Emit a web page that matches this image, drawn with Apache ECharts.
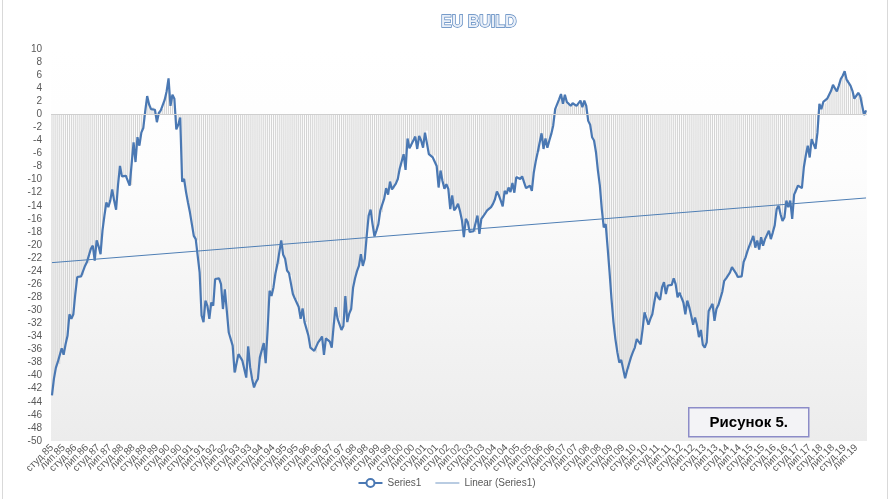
<!DOCTYPE html>
<html>
<head>
<meta charset="utf-8">
<script src="https://cdn.jsdelivr.net/npm/echarts@6/dist/echarts.min.js"></script>
<style>html,body{margin:0;padding:0;background:#fff}#c{width:893px;height:499px}</style>
</head>
<body>
<div id="c"></div>
<script>
// Month abbreviations (Ukrainian) and years
const monthNames = ['студ.','лют.','бер.','квіт.','трав.','черв.','лип.','серп.','вер.','жовт.','лист.','груд.'];
const years = ['85','86','87','88','89','90','91','92','93','94','95','96','97','98','99','00','01','02','03','04','05','06','07','08','09','10','11','12','13','14','15','16','17','18','19'];

// Series1 monthly values, Jan 1985 .. Dec 2019
const series1 = [
-43,-40.5,-38.8,-37.9,-38.2,-35.8,-36.8,-35.2,-33.9,-30.6,
-31.3,-30.6,-27.5,-24.9,-25,-24.8,-24.6,-23.2,-22.6,-22.8,
-20.6,-20.1,-22.4,-19.3,-20.2,-21.4,-17.8,-15.5,-13.5,-14.2,
-13.2,-11.5,-13.2,-14.6,-10.8,-7.9,-9.5,-9.8,-9.4,-9.6,
-10.9,-10.8,-4.3,-7.3,-3.5,-4.8,-2.8,-2.1,0.5,2.8,
1.5,0.8,1.1,0.7,-1.2,0.2,0.6,0.8,2.2,3.5,
5.5,1.3,3.0,2.4,-2.3,-1.6,-0.5,-10.3,-9.9,-11.9,
-13.5,-15,-16.8,-18.6,-19.1,-19.3,-24.2,-30.8,-31.8,-28.5,
-29.3,-31.3,-28.8,-29.3,-25.2,-25.1,-25.1,-26,-29.8,-26.8,
-26.8,-33.4,-33.5,-35.4,-39.5,-39.4,-36.7,-37.2,-37.7,-39,
-40.3,-35.5,-38.7,-40.5,-41.8,-41.0,-40.5,-37.2,-37.4,-35,
-38.1,-32.9,-27,-27.8,-26.5,-24.4,-23,-22.9,-19.3,-21.5,
-22.1,-23.9,-24.3,-24.6,-27.5,-28.2,-28.3,-29.5,-31.3,-29.7,
-31.8,-31.8,-33.9,-35.7,-36,-36.2,-36.5,-34.9,-34.5,-34,
-36.8,-34.3,-34.2,-34.8,-35.7,-32.3,-29.5,-31.3,-31.1,-33,
-32.4,-27.8,-31.8,-30.5,-29.8,-26.5,-25.1,-24,-23.2,-21.4,
-23.2,-22.1,-18.6,-15.5,-14.6,-16.8,-18.7,-17.8,-16.8,-14.7,
-15,-12.9,-11.3,-12.3,-10.3,-11.5,-11.4,-10.6,-9.9,-8.3,
-8,-6.1,-8.5,-3.7,-5.2,-5.0,-4,-3.4,-5.3,-3.3,
-4,-5.1,-2.8,-2.5,-6.1,-6.4,-6.6,-6.3,-7.9,-11.2,
-8.6,-10.2,-11.4,-10.7,-11.4,-14.5,-12.4,-14.7,-14.3,-13.7,
-14.8,-16.2,-18.8,-16,-16.5,-18,-17.8,-17.9,-18,-15.5,
-18.3,-16,-15.6,-15.4,-14.7,-14.5,-14.2,-13.7,-13,-11.8,
-12.4,-13.2,-14.1,-11.7,-12.2,-11.2,-11.9,-10.5,-12,-9.6,
-9.3,-9.9,-9.5,-10.4,-11.3,-11.4,-10.9,-11.7,-8.9,-7.2,
-5.8,-5.7,-2.9,-5.3,-3.7,-5.1,-4,-3,-1.7,0.8,
0.9,2.3,3.1,1.6,3,1.9,1.8,1.3,1.7,1.4,
1.3,1.5,2.1,1.1,2.1,1.3,-1,-1.6,-3.5,-4,
-5.8,-8.6,-10.9,-14.5,-17.3,-16.8,-20.4,-24.2,-28.3,-31.8,
-34.4,-36.4,-38,-37.6,-39,-40.4,-39.2,-39,-37.2,-36.4,
-35.7,-34.4,-34.6,-35.2,-32.9,-30.3,-30.4,-32.2,-31.3,-30.6,
-28.8,-27.2,-28,-28.4,-26.5,-25.7,-27.5,-26.2,-26,-26.1,
-25.1,-26,-28,-27.3,-27.5,-28.8,-30.6,-28.5,-29.5,-30.8,
-32.2,-31.1,-32.3,-34.1,-33,-35.3,-35.7,-34.9,-30.1,-30.3,
-29,-31.6,-29.8,-29.2,-28.2,-27.2,-25.5,-25.1,-24.8,-24.2,
-23.4,-23.7,-24.3,-24.9,-24.7,-24.8,-22.6,-21.9,-20.9,-20.1,
-20.4,-18.6,-20.4,-19.3,-20.7,-18.8,-20.1,-19.1,-19,-17.8,
-19.1,-18.1,-17,-14.5,-14,-15.3,-16.3,-15.8,-13.2,-14.2,
-13.2,-16,-12.3,-12,-10.9,-11.1,-11.3,-8.1,-6.3,-4.8,
-6.6,-3.8,-4,-5.3,-2.8,1.6,0.8,1.9,1.7,2.4,
3,3.6,4.5,4,3.5,4.4,5.4,5.9,6.6,5.3,
5.3,4.4,3.6,2.4,2.4,3.3,2.8,2.6,-0.1,0.6
];

// Linear trend endpoints
const trendEnds = [-22.7, -12.8];

const categories = [];
years.forEach(y => monthNames.forEach(m => categories.push(m + y)));
const lastIdx = categories.length - 1;

const trendData = categories.map(() => null);
trendData[0] = trendEnds[0];
trendData[lastIdx] = trendEnds[1];

const chart = echarts.init(document.getElementById('c'));
const font = 'Liberation Sans, Arial, sans-serif';
chart.setOption({
  backgroundColor: '#ffffff',
  animation: false,
  title: {
    text: 'EU BUILD',
    left: 436, top: 10,
    textStyle: {
      fontFamily: font, fontSize: 16, fontWeight: 'bold',
      color: '#e9eff8', textBorderColor: '#4f7fbb', textBorderWidth: 1.3
    }
  },
  grid: {
    left: 51, right: 26, top: 49, bottom: 58, show: true, borderWidth: 0,
    backgroundColor: {
      type: 'linear', x: 0, y: 0, x2: 0, y2: 1,
      colorStops: [{offset: 0, color: '#ffffff'}, {offset: 0.3, color: '#fdfdfd'}, {offset: 1, color: '#ececec'}]
    }
  },
  legend: {
    data: [
      {name: 'Series1'},
      {name: 'Linear (Series1)', icon: 'path://M0,0 M0,4.6 L24,4.6 L24,5.4 L0,5.4 Z M24,10'}
    ],
    left: 'center', top: 473,
    itemWidth: 24, itemHeight: 10, itemGap: 14,
    textStyle: {fontFamily: font, fontSize: 10, color: '#595959'}
  },
  xAxis: {
    type: 'category',
    data: categories,
    boundaryGap: true,
    axisLine: {show: false},
    axisTick: {show: false},
    axisLabel: {
      // every 6th month labelled; index 1 and last index carry empty labels
      interval: function (i) { return i % 6 === 0 || i === 1 || i === lastIdx; },
      formatter: function (v, i) { return i % 6 === 0 ? v : ''; },
      showMinLabel: true, showMaxLabel: null, hideOverlap: false,
      rotate: 45, margin: 5,
      fontFamily: font, fontSize: 10, color: '#595959'
    },
    splitLine: {show: false}
  },
  yAxis: {
    type: 'value',
    min: -50, max: 10, interval: 2,
    axisLine: {show: false},
    axisTick: {show: false},
    splitLine: {show: false},
    axisLabel: {margin: 9, fontFamily: font, fontSize: 10, color: '#595959'}
  },
  series: [
    {
      name: 'drops',
      type: 'bar',
      data: series1,
      barWidth: 1,
      itemStyle: {color: '#d4d4d4'},
      silent: true,
      z: 1,
      markLine: {
        silent: true, symbol: 'none',
        label: {show: false},
        lineStyle: {color: '#cfcfcf', width: 1, type: 'solid'},
        data: [{yAxis: 0}]
      }
    },
    {
      name: 'Series1',
      type: 'line',
      data: series1,
      showSymbol: false,
      symbol: 'emptyCircle',
      symbolSize: 5,
      lineStyle: {color: '#4a78b3', width: 2.2},
      itemStyle: {color: '#4a78b3'},
      z: 3
    },
    {
      name: 'Linear (Series1)',
      type: 'line',
      data: trendData,
      connectNulls: true,
      symbol: 'none',
      lineStyle: {color: '#4f7fb5', width: 1},
      itemStyle: {color: '#4f7fb5'},
      z: 4
    }
  ],
  graphic: [
    {type: 'line', shape: {x1: 2.5, y1: 0, x2: 2.5, y2: 499}, style: {stroke: '#d9d9d9', lineWidth: 1}, silent: true},
    {type: 'line', shape: {x1: 887.5, y1: 0, x2: 887.5, y2: 499}, style: {stroke: '#d9d9d9', lineWidth: 1}, silent: true},
    {
      type: 'group', left: 688, top: 407,
      children: [
        {type: 'rect', shape: {x: 0, y: 0, width: 120, height: 29}, style: {fill: '#f3f3f6', stroke: '#8c8cc8', lineWidth: 1.5}},
        {type: 'text', style: {x: 60, y: 15, text: 'Рисунок 5.', align: 'center', verticalAlign: 'middle', font: 'bold 15px ' + font, fill: '#000000'}}
      ]
    }
  ]
});
</script>
</body>
</html>
